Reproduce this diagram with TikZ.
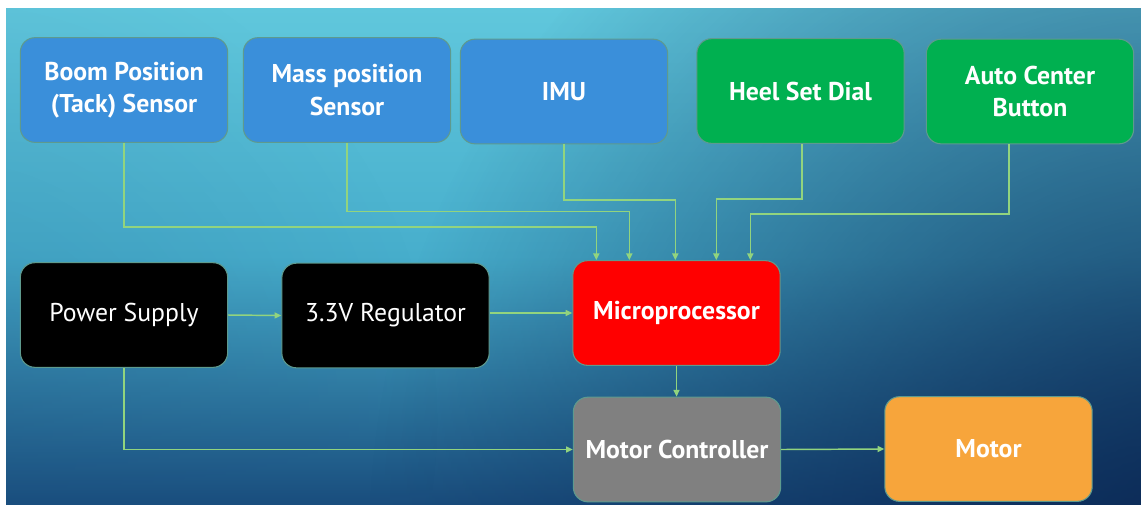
\documentclass[tikz,border=0pt]{standalone}
\usepackage{fontspec}
\setmainfont{PT Sans}
\usetikzlibrary{arrows.meta,fadings,calc}

\definecolor{bgtop}{HTML}{60C7DC}
\definecolor{bgmid}{HTML}{47AECC}
\definecolor{bgbot}{HTML}{1A4E7E}
\definecolor{navy}{HTML}{0A2652}
\definecolor{sensorblue}{HTML}{3A8FDA}
\definecolor{inputgreen}{HTML}{00B050}
\definecolor{cpured}{HTML}{FF0000}
\definecolor{drivegray}{HTML}{808080}
\definecolor{motororange}{HTML}{F7A53B}
\definecolor{wirecol}{HTML}{92D47E}
\definecolor{edgecol}{HTML}{5E9A8E}

\tikzfading[name=cornerfade, inner color=transparent!0, outer color=transparent!100]

\begin{document}
\begin{tikzpicture}[x=0.75pt, y=-0.75pt,
  block/.style={rounded corners=11pt, draw=edgecol, line width=0.8pt,
    text=white, align=center, minimum width=155.5pt, minimum height=78.5pt,
    inner sep=0pt, font=\fontsize{19.3}{24.4}\selectfont\bfseries},
  plain/.style={font=\fontsize{19.3}{24.4}\selectfont},
  wire/.style={draw=wirecol, line width=1.1pt,
    -{Triangle[length=5pt,width=4.5pt]}}]

  % page and backdrop
  \useasboundingbox (0,0) rectangle (1141,504);
  \fill[white] (0,0) rectangle (1141,504);
  \shade[top color=bgtop, bottom color=bgbot, middle color=bgmid]
    (6,8) rectangle (1141,504);
  \begin{scope}
    \clip (6,8) rectangle (1141,504);
    \fill[navy, opacity=0.9, path fading=cornerfade] (1200,540) circle (830);
    \fill[bgbot, opacity=0.2, path fading=cornerfade] (-60,420) circle (500);
  \end{scope}

  % sensors and inputs
  \node[block, fill=sensorblue] (boom)  at (124,90)    {Boom Position\\(Tack) Sensor};
  \node[block, fill=sensorblue] (mass)  at (347,90)    {Mass position\\Sensor};
  \node[block, fill=sensorblue] (imu)   at (564,91.5)  {IMU};
  \node[block, fill=inputgreen] (heel)  at (800.5,91)  {Heel Set Dial};
  \node[block, fill=inputgreen] (auto)  at (1030,91.5) {Auto Center\\Button};

  % power path, processor and drive
  \node[block, plain, fill=black] (power) at (124,315)   {Power Supply};
  \node[block, plain, fill=black] (reg)   at (385.5,315.5) {3.3V Regulator};
  \node[block, fill=cpured]      (micro) at (676.5,313) {Microprocessor};
  \node[block, fill=drivegray]   (mc)    at (677,449.5) {Motor Controller};
  \node[block, fill=motororange] (motor) at (988.5,449) {Motor};

  % entry points on top of the processor
  \coordinate (m1) at ($(micro.north west)+(24,0)$);
  \coordinate (m2) at ($(micro.north west)+(57,0)$);
  \coordinate (m3) at ($(micro.north west)+(103,0)$);
  \coordinate (m4) at ($(micro.north west)+(144,0)$);
  \coordinate (m5) at ($(micro.north west)+(178,0)$);

  \draw[wire] (boom.south) |- ($(m1)+(0,-33)$) -- (m1);
  \draw[wire] (mass.south) |- ($(m2)+(0,-48.5)$) -- (m2);
  \draw[wire] (imu.south)  |- ($(m3)+(0,-60)$) -- (m3);
  \draw[wire] ([xshift=1.1pt]heel.south) |- ($(m4)+(0,-61)$) -- (m4);
  \draw[wire] ([xshift=-15.75pt]auto.south) |- ($(m5)+(0,-46)$) -- (m5);

  \draw[wire] (power.east) -- (reg.west);
  \draw[wire] (micro.west -| reg.east) -- (micro.west);
  \draw[wire] (micro.south) -- (micro.south |- mc.north);
  \draw[wire] (power.south) |- (mc.west);
  \draw[wire] (mc.east) -- (motor.west);
\end{tikzpicture}
\end{document}
